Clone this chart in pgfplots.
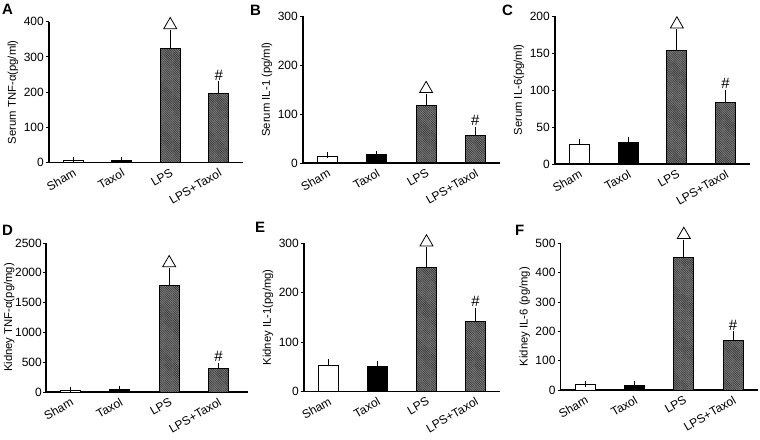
\documentclass[border=0pt]{standalone}
\usepackage{fontspec}
\setmainfont{Liberation Sans}
\usepackage{pgfplots}
\pgfplotsset{compat=1.18}
\usetikzlibrary{patterns.meta}

\pgfplotsset{
 panel/.style={
  scale only axis, clip=false,
  axis x line*=bottom, axis y line*=left,
  axis line style={line width=1.1pt, black},
  xmin=-0.5, xmax=3.5, ymin=0,
  xtick={0,1,2,3}, xticklabels={Sham,Taxol,LPS,LPS+Taxol},
  xtick style={draw=none},
  tick align=outside, major tick length=3pt,
  ytick style={line width=0.9pt, black},
  xticklabel style={rotate=30, anchor=north east, font=\fontsize{12}{12}\selectfont, inner sep=1.5pt},
  yticklabel style={font=\fontsize{12}{12}\selectfont, inner sep=2pt},
  ylabel style={font=\fontsize{11.3}{12}\selectfont},
  /pgf/number format/assume math mode=true,
  /pgf/number format/1000 sep={},
  scaled y ticks=false,
 },
 bar/.style={ybar, bar width=20pt, bar shift=0pt, draw=black, line width=1pt,
   /pgfplots/error bars/y dir=plus, /pgfplots/error bars/y explicit,
   /pgfplots/error bars/error bar style={line width=1pt, black},
   /pgfplots/error bars/error mark options={line width=1pt, mark size=3pt, black}},
 hatch/.style={fill=black!50, postaction={pattern={Lines[angle=-45,distance=1.6pt,line width=0.6pt]}, pattern color=black!80}},
 tri/.style={only marks, draw=black, mark=triangle, mark size=7.5pt, mark options={line width=0.8pt, draw=black, fill=white, yshift=8pt}},
}
\tikzset{letter/.style={anchor=north west, inner sep=0pt, font=\fontsize{15}{15}\selectfont\bfseries},
 hashn/.style={anchor=south, inner sep=0pt, yshift=4pt, font=\fontsize{15}{15}\selectfont}}

\begin{document}
\begin{tikzpicture}
\path[use as bounding box] (0,0) rectangle (760pt,439pt);

% A
\begin{axis}[panel, at={(49pt,276.3pt)}, width=194pt, height=141pt, ymax=400, ytick={0,100,200,300,400}, ylabel={Serum TNF-α(pg/ml)}]
\addplot[bar, fill=white] coordinates {(0,6) +- (0,1)};
\addplot[bar, fill=black] coordinates {(1,7) +- (0,1)};
\addplot[bar, hatch] coordinates {(2,325) +- (0,43)};
\addplot[bar, hatch] coordinates {(3,197) +- (0,25)};
\addplot[tri] coordinates {(2,368)};
\node[hashn] at (axis cs:3,222) {\#};
\end{axis}

% B
\begin{axis}[panel, at={(303pt,276pt)}, width=197pt, height=147pt, ymax=300, ytick={0,100,200,300}, ylabel={Serum IL-1 (pg/ml)}]
\addplot[bar, fill=white] coordinates {(0,14) +- (0,2)};
\addplot[bar, fill=black] coordinates {(1,17) +- (0,2)};
\addplot[bar, hatch] coordinates {(2,118) +- (0,17)};
\addplot[bar, hatch] coordinates {(3,57) +- (0,10)};
\addplot[tri] coordinates {(2,135)};
\node[hashn] at (axis cs:3,67) {\#};
\end{axis}

% C
\begin{axis}[panel, at={(555pt,275pt)}, width=195pt, height=148pt, ymax=200, ytick={0,50,100,150,200}, ylabel={Serum IL-6(pg/ml)}]
\addplot[bar, fill=white] coordinates {(0,26) +- (0,4)};
\addplot[bar, fill=black] coordinates {(1,29) +- (0,4)};
\addplot[bar, hatch] coordinates {(2,154) +- (0,24)};
\addplot[bar, hatch] coordinates {(3,83) +- (0,13)};
\addplot[tri] coordinates {(2,178)};
\node[hashn] at (axis cs:3,96) {\#};
\end{axis}

% D
\begin{axis}[panel, at={(46pt,47pt)}, width=202pt, height=149pt, xmax=3.6, ymax=2500, ytick={0,500,1000,1500,2000,2500}, ylabel={Kidney TNF-α(pg/mg)}, ylabel shift=-4pt, yticklabel style={inner sep=1pt}]
\addplot[bar, fill=white] coordinates {(0,25) +- (0,5)};
\addplot[bar, fill=black] coordinates {(1,40) +- (0,10)};
\addplot[bar, hatch] coordinates {(2,1780) +- (0,250)};
\addplot[bar, hatch] coordinates {(3,390) +- (0,50)};
\addplot[tri] coordinates {(2,2030)};
\node[hashn] at (axis cs:3,440) {\#};
\end{axis}

% E
\begin{axis}[panel, at={(304pt,47.7pt)}, width=196pt, height=148pt, ymax=300, ytick={0,100,200,300}, ylabel={Kidney IL-1(pg/mg)}]
\addplot[bar, fill=white] coordinates {(0,52) +- (0,8)};
\addplot[bar, fill=black] coordinates {(1,50) +- (0,5)};
\addplot[bar, hatch] coordinates {(2,250) +- (0,36)};
\addplot[bar, hatch] coordinates {(3,142) +- (0,21)};
\addplot[tri] coordinates {(2,286)};
\node[hashn] at (axis cs:3,163) {\#};
\end{axis}

% F
\begin{axis}[panel, at={(560.7pt,49pt)}, width=197pt, height=146.7pt, ymax=500, ytick={0,100,200,300,400,500}, ylabel={Kidney IL-6 (pg/mg)}]
\addplot[bar, fill=white] coordinates {(0,18) +- (0,2)};
\addplot[bar, fill=black] coordinates {(1,16) +- (0,3)};
\addplot[bar, hatch] coordinates {(2,450) +- (0,52)};
\addplot[bar, hatch] coordinates {(3,170) +- (0,20)};
\addplot[tri] coordinates {(2,502)};
\node[hashn] at (axis cs:3,190) {\#};
\end{axis}

\node[letter] at (2pt,435pt) {A};
\node[letter] at (250pt,434pt) {B};
\node[letter] at (502pt,434pt) {C};
\node[letter] at (2pt,214pt) {D};
\node[letter] at (255pt,217pt) {E};
\node[letter] at (515pt,214pt) {F};
\end{tikzpicture}
\end{document}
